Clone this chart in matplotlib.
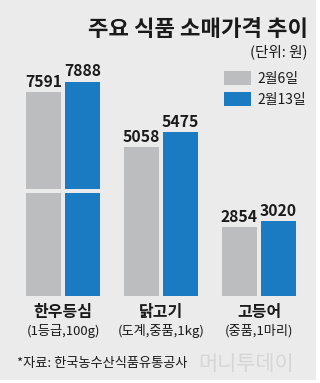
import matplotlib
matplotlib.use("Agg")
import matplotlib.pyplot as plt
from matplotlib.patches import Rectangle
import numpy as np

plt.rcParams['font.family'] = ['Noto Sans CJK KR', 'DejaVu Sans']

# ---- data ----
categories = ['한우등심', '닭고기', '고등어']
sublabels = ['(1등급,100g)', '(도계,중품,1kg)', '(중품,1마리)']
series_names = ['2월6일', '2월13일']
feb6 = [7591, 5058, 2854]
feb13 = [7888, 5475, 3020]
title = '주요 식품 소매가격 추이'
unit = '(단위: 원)'
source = '*자료: 한국농수산식품유통공사'

GRAY = '#bcbdbf'
BLUE = '#1b7bc2'
BG = '#ebebeb'
TXT = '#1a1a1a'

W, H = 320, 383
fig = plt.figure(figsize=(W / 100, H / 100), dpi=100)
fig.patch.set_facecolor('white')
fig.patches.append(Rectangle((0, 1 - 380 / H), 316 / W, 380 / H, transform=fig.transFigure,
                             facecolor=BG, edgecolor='none', zorder=-10))

def fx(x):
    return x / W

def fy(y):
    return 1 - y / H

def make_axes(top_px, bottom_px):
    ax = fig.add_axes([fx(14), fy(bottom_px), 294 / W, (bottom_px - top_px) / H])
    ax.set_xlim(-0.5, 2.5)
    ax.patch.set_alpha(0)
    for s in ax.spines.values():
        s.set_visible(False)
    ax.set_xticks([])
    ax.set_yticks([])
    return ax

slope = 0.03625  # px per won
base = 959
x = np.arange(len(categories))
off = 0.2
bw = 0.357

# main axes: categories 2 and 3
ax = make_axes(60, 296)
ax.set_ylim(base, base + 236 / slope)

# broken axes for category 1
ax_lo = make_axes(193.3, 296)
ax_lo.set_ylim(base, base + (296 - 193.3) / slope)
ax_hi = make_axes(60, 189.3)
hi_lo = 7888 - (189.3 - 81.7) / slope
ax_hi.set_ylim(hi_lo, hi_lo + (189.3 - 60) / slope)

lab_kw = dict(ha='center', va='baseline', fontsize=11.3, fontweight='bold', color=TXT,
              textcoords='offset points', xytext=(0, 4))

for i in range(len(categories)):
    if i == 0:
        for a in (ax_lo, ax_hi):
            a.bar(x[i] - off, feb6[i], width=bw, color=GRAY)
            a.bar(x[i] + off, feb13[i], width=bw, color=BLUE)
        tgt = ax_hi
    else:
        ax.bar(x[i] - off, feb6[i], width=bw, color=GRAY)
        ax.bar(x[i] + off, feb13[i], width=bw, color=BLUE)
        tgt = ax
    tgt.annotate(f'{feb6[i]}', (x[i] - off, feb6[i]), **lab_kw)
    tgt.annotate(f'{feb13[i]}', (x[i] + off, feb13[i]), **lab_kw)
    # category labels
    ax.annotate(categories[i], (x[i], base), xycoords='data', textcoords='offset pixels',
                xytext=(0, -21), ha='center', va='baseline', fontsize=11.5,
                fontweight='bold', color=TXT, annotation_clip=False)
    ax.annotate(sublabels[i], (x[i], base), xycoords='data', textcoords='offset pixels',
                xytext=(0, -39), ha='center', va='baseline', fontsize=9.5,
                color=TXT, annotation_clip=False)

# title & unit
fig.text(fx(308), fy(36), title, ha='right', va='baseline', fontsize=16,
         fontweight='bold', color=TXT)
fig.text(fx(308), fy(56), unit, ha='right', va='baseline', fontsize=10.5, color=TXT)

# legend
for name, col, ytop in zip(series_names, [GRAY, BLUE], [70.7, 92.3]):
    fig.patches.append(Rectangle((fx(224), fy(ytop + 14)), 27 / W, 14 / H,
                                 transform=fig.transFigure, facecolor=col, edgecolor='none'))
    fig.text(fx(257), fy(ytop + 12), name, ha='left', va='baseline', fontsize=10, color=TXT)

# watermark
fig.text(fx(198), fy(370), '머니투데이', ha='left', va='baseline', fontsize=15,
         color='#d6d6d6')
# source
fig.text(fx(17), fy(367), source, ha='left', va='baseline', fontsize=9.5, color=TXT)

fig.savefig('out.png', dpi=100, facecolor=fig.get_facecolor())
